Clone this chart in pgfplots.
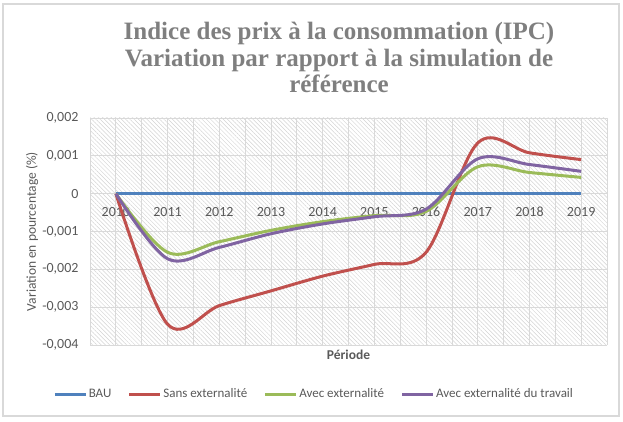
\documentclass[border=0pt]{standalone}
\usepackage{pgfplots}
\pgfplotsset{compat=1.18}
\usepackage{fontspec}
\setmainfont{Carlito}
\newfontfamily\titlefont{Liberation Serif}
\usetikzlibrary{patterns.meta}
\definecolor{bau}{HTML}{4F81BD}
\definecolor{sans}{HTML}{C0504D}
\definecolor{avec}{HTML}{9BBB59}
\definecolor{trav}{HTML}{8064A2}
\definecolor{titlegray}{HTML}{7F7F7F}
\definecolor{ticktxt}{HTML}{595959}
\definecolor{gridc}{HTML}{D9D9D9}
\definecolor{hatch}{HTML}{D3D3D3}

\pgfplotstableread{
x bau sans avec trav
0 0 0 0 0
1 0 -0.00345 -0.00155 -0.00172
2 0 -0.00296 -0.00127 -0.00142
3 0 -0.00257 -0.00097 -0.00106
4 0 -0.00218 -0.00074 -0.00080
5 0 -0.00187 -0.00058 -0.00061
6 0 -0.00155 -0.00047 -0.00041
7 0 0.00134 0.00071 0.00092
8 0 0.00108 0.00056 0.00077
9 0 0.00090 0.00043 0.00059
}\ipcdata

\begin{document}
\begin{tikzpicture}[x=1pt,y=1pt]
\path[use as bounding box] (0,0) rectangle (623,422);
\draw[gridc, line width=1.2pt] (3,6) rectangle (619,418);
\begin{scope}[every node/.style={anchor=base, text=titlegray, font=\titlefont\bfseries\fontsize{25}{27}\selectfont}]
\node at (339,382.7) {Indice des prix à la consommation (IPC)};
\node at (339,355.3) {Variation par rapport à la simulation de};
\node at (339,329) {référence};
\end{scope}
\begin{axis}[
  at={(90pt,77pt)}, anchor=south west,
  scale only axis, width=517pt, height=227pt,
  xmin=-0.5, xmax=9.5, ymin=-0.004, ymax=0.002,
  axis line style={draw=none}, tick style={draw=none},
  xtick={0,1,2,3,4,5,6,7,8,9},
  xticklabels={2010,2011,2012,2013,2014,2015,2016,2017,2018,2019},
  minor xtick={-0.5,0.5,1.5,2.5,3.5,4.5,5.5,6.5,7.5,8.5,9.5},
  ytick={-0.004,-0.003,-0.002,-0.001,0,0.001,0.002},
  yticklabels={{-0,004},{-0,003},{-0,002},{-0,001},0,{0,001},{0,002}},
  scaled y ticks=false,
  xmajorgrids, xminorgrids, ymajorgrids,
  grid style={gridc, line width=0.8pt},
  minor grid style={gridc, line width=0.8pt},
  axis background/.style={pattern={Lines[angle=-45,distance=3pt,line width=0.5pt]}, pattern color=hatch},
  tick label style={font=\fontsize{14}{16}\selectfont, text=ticktxt},
  xticklabel style={anchor=base, yshift=128.3pt},
  yticklabel style={anchor=east, xshift=-8pt},
  xlabel={\bfseries Période},
  ylabel={Variation en pourcentage (\%)},
  every axis x label/.style={at={(axis description cs:0.5,-0.044)}, anchor=center, font=\fontsize{13.5}{15}\selectfont, text=ticktxt},
  every axis y label/.style={at={(axis description cs:-0.1122,0.5)}, rotate=90, anchor=center, font=\fontsize{13.5}{15}\selectfont, text=ticktxt},
  legend columns=4,
  legend style={at={(axis description cs:0.433,-0.216)}, anchor=center, draw=none, fill=none,
    font=\fontsize{13}{15}\selectfont, text=ticktxt,
    nodes={inner sep=1.5pt},
    /tikz/every even column/.append style={column sep=15pt}},
  legend image code/.code={\draw[#1, line width=3pt] (0pt,0pt) -- (31pt,0pt);},
  every axis plot/.append style={line width=3pt, smooth, tension=0.55, no markers},
]
\addplot[bau] table[x=x, y=bau] {\ipcdata};
\addplot[sans] table[x=x, y=sans] {\ipcdata};
\addplot[avec] table[x=x, y=avec] {\ipcdata};
\addplot[trav] table[x=x, y=trav] {\ipcdata};
\legend{BAU, Sans externalité, Avec externalité, Avec externalité du travail}
\end{axis}
\end{tikzpicture}
\end{document}
